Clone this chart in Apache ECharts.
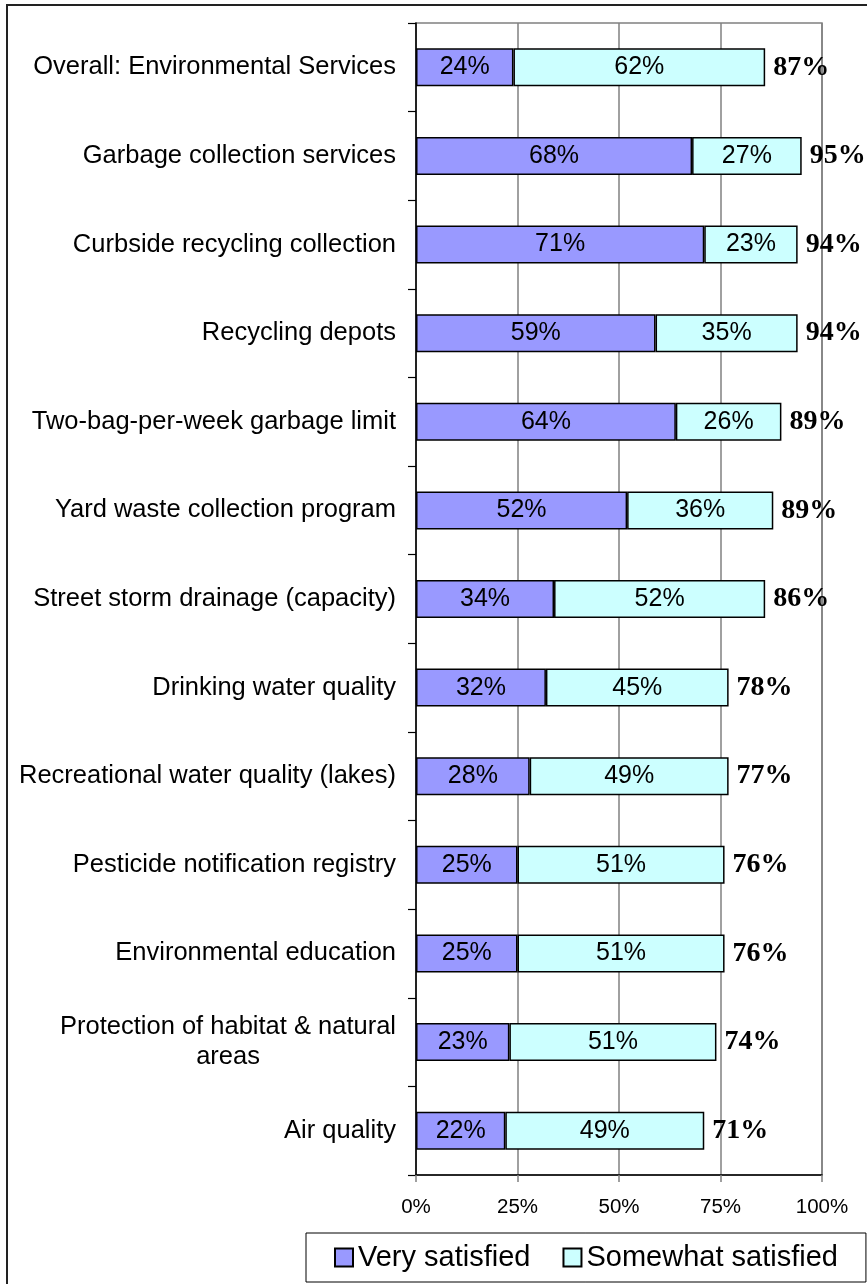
<!DOCTYPE html>
<html>
<head>
<meta charset="utf-8">
<script src="https://cdn.jsdelivr.net/npm/echarts@6/dist/echarts.min.js"></script>
<style>
  html, body { margin: 0; padding: 0; background: #fff; }
  #chart { width: 867px; height: 1284px; }
</style>
</head>
<body>
<div id="chart"></div>
<script>
// satisfaction items, top to bottom
const categories = [
  'Overall: Environmental Services',
  'Garbage collection services',
  'Curbside recycling collection',
  'Recycling depots',
  'Two-bag-per-week garbage limit',
  'Yard waste collection program',
  'Street storm drainage (capacity)',
  'Drinking water quality',
  'Recreational water quality (lakes)',
  'Pesticide notification registry',
  'Environmental education',
  'Protection of habitat & natural\nareas',
  'Air quality'
];
const verySatisfied = [24, 68, 71, 59, 64, 52, 34, 32, 28, 25, 25, 23, 22];
const somewhatSatisfied = [62, 27, 23, 35, 26, 36, 52, 45, 49, 51, 51, 51, 49];
const totalSatisfied = [87, 95, 94, 94, 89, 89, 86, 78, 77, 76, 76, 74, 71];
const xTicks = [0, 25, 50, 75, 100];

const sans = 'Liberation Sans, Arial, sans-serif';
const serif = 'Liberation Serif, Times New Roman, serif';

const myChart = echarts.init(document.getElementById('chart'));

const option = {
  animation: false,
  backgroundColor: '#fff',
  graphic: [{
    type: 'rect',
    shape: { x: 7, y: 5, width: 880, height: 1300 },
    style: { fill: 'none', stroke: '#222', lineWidth: 2 },
    silent: true
  }],
  grid: {
    left: 416,
    right: 45,
    top: 23,
    bottom: 109,
    show: true,
    borderColor: '#808080',
    borderWidth: 1.5
  },
  legend: {
    data: ['Very satisfied', 'Somewhat satisfied'],
    left: 306,
    top: 1233,
    width: 540,
    padding: [10, 28, 10, 28],
    itemWidth: 18,
    itemHeight: 18,
    itemGap: 32,
    icon: 'rect',
    borderColor: '#000',
    borderWidth: 1,
    textStyle: { fontSize: 29, color: '#000', fontFamily: sans }
  },
  xAxis: {
    type: 'value',
    min: xTicks[0],
    max: xTicks[xTicks.length - 1],
    interval: xTicks[1] - xTicks[0],
    axisLine: { show: true, lineStyle: { color: '#000', width: 1.5 } },
    axisTick: { show: true, length: 7, lineStyle: { color: '#808080', width: 1.5 } },
    splitLine: { show: true, lineStyle: { color: '#808080', width: 1.5 } },
    axisLabel: {
      formatter: '{value}%',
      fontSize: 20.5,
      color: '#000',
      fontFamily: sans,
      margin: 22
    }
  },
  yAxis: {
    type: 'category',
    data: categories,
    inverse: true,
    axisLine: { show: true, lineStyle: { color: '#000', width: 1.5 } },
    axisTick: { show: true, length: 8, lineStyle: { color: '#000', width: 1.2 } },
    axisLabel: {
      margin: 20,
      color: '#000',
      fontFamily: sans,
      fontSize: 25.5,
      formatter: function (v) {
        return v.split('\n').map(function (l) { return '{c|' + l + '}'; }).join('\n');
      },
      rich: {
        c: { align: 'center', fontSize: 25.5, lineHeight: 30, fontFamily: sans, color: '#000' }
      }
    }
  },
  series: [
    {
      name: 'Very satisfied',
      type: 'bar',
      stack: 'total',
      barWidth: 38,
      data: verySatisfied,
      itemStyle: { color: '#9999FF', borderColor: '#000', borderWidth: 1.5 },
      label: {
        show: true,
        position: 'inside',
        formatter: '{c}%',
        fontSize: 25,
        color: '#000',
        fontFamily: sans
      }
    },
    {
      name: 'Somewhat satisfied',
      type: 'bar',
      stack: 'total',
      barWidth: 38,
      data: somewhatSatisfied,
      itemStyle: { color: '#CCFFFF', borderColor: '#000', borderWidth: 1.5 },
      label: {
        show: true,
        position: 'inside',
        formatter: '{c}%',
        fontSize: 25,
        color: '#000',
        fontFamily: sans
      }
    },
    {
      name: 'Total',
      type: 'bar',
      stack: 'total',
      barWidth: 38,
      data: totalSatisfied.map(function () { return 0; }),
      itemStyle: { color: 'transparent', borderWidth: 0 },
      label: {
        show: true,
        position: 'right',
        distance: 8,
        formatter: function (p) { return totalSatisfied[p.dataIndex] + '%'; },
        fontSize: 28,
        fontWeight: 'bold',
        color: '#000',
        fontFamily: serif
      }
    }
  ]
};

option && myChart.setOption(option);
</script>
</body>
</html>
